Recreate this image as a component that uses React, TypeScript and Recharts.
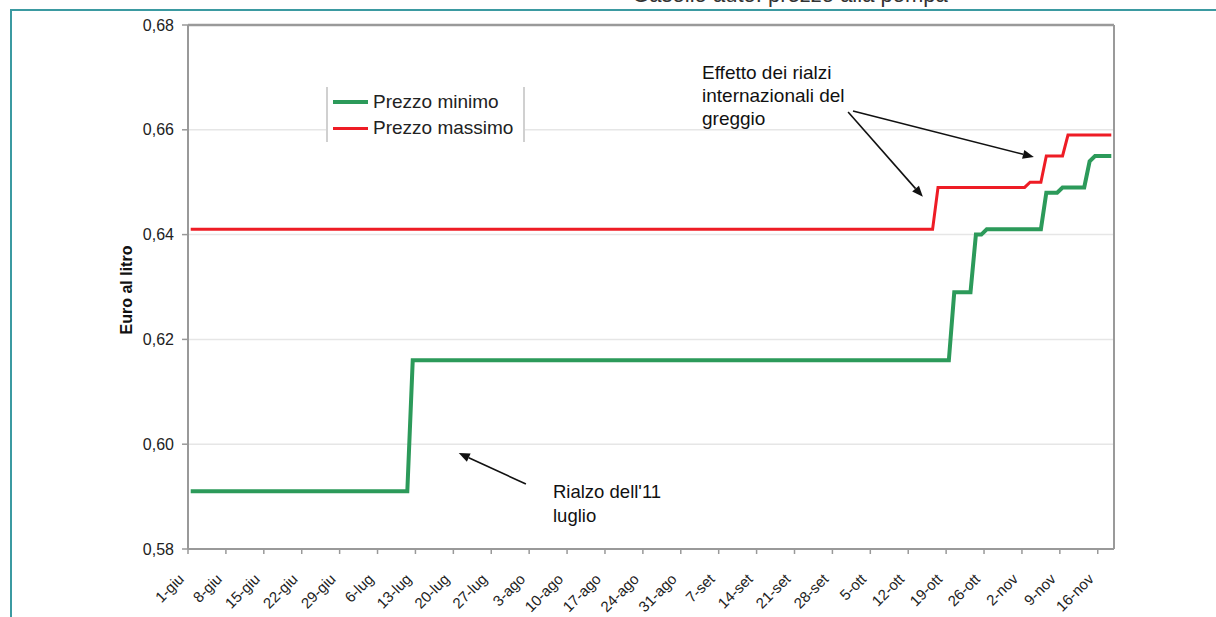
import React from 'react';
import { LineChart, Line, XAxis, YAxis, CartesianGrid, ReferenceLine } from 'recharts';

// Days counted from 1 June
const tickDays = [0, 7, 14, 21, 28, 35, 42, 49, 56, 63, 70, 77, 84, 91, 98, 105, 112, 119, 126, 133, 140, 147, 154, 161, 168];
const tickLabels = ['1-giu', '8-giu', '15-giu', '22-giu', '29-giu', '6-lug', '13-lug', '20-lug', '27-lug', '3-ago', '10-ago', '17-ago', '24-ago', '31-ago', '7-set', '14-set', '21-set', '28-set', '5-ott', '12-ott', '19-ott', '26-ott', '2-nov', '9-nov', '16-nov'];
const yTicks = [0.58, 0.6, 0.62, 0.64, 0.66, 0.68];

const minDays = [0, 40, 41, 140, 141, 144, 145, 146, 147, 157, 158, 160, 161, 165, 166, 167, 170];
const minValues = [0.591, 0.591, 0.616, 0.616, 0.629, 0.629, 0.640, 0.640, 0.641, 0.641, 0.648, 0.648, 0.649, 0.649, 0.654, 0.655, 0.655];
const maxDays = [0, 137, 138, 154, 155, 157, 158, 161, 162, 170];
const maxValues = [0.641, 0.641, 0.649, 0.649, 0.650, 0.650, 0.655, 0.655, 0.659, 0.659];

const seriesNames = ['Prezzo minimo', 'Prezzo massimo'];
const seriesColors = ['#2C9A5A', '#EE1C25'];
const seriesWidths = [4, 3];

// annotation arrows in data coordinates: [fromDay, fromValue, toDay, toValue]
const arrows = [
  [121.9, 0.6634, 135.7, 0.6472],
  [122.8, 0.6636, 156.2, 0.6548],
  [62.4, 0.5924, 50.0, 0.5983],
];

const minData = minDays.map((d, i) => ({ x: d + 0.5, v: minValues[i] }));
const maxData = maxDays.map((d, i) => ({ x: d + 0.5, v: maxValues[i] }));

const FONT = '"Liberation Sans", Arial, sans-serif';

const XTick = (props: any) => {
  const { x, y, payload } = props;
  const idx = tickDays.indexOf(payload.value);
  const label = idx >= 0 ? tickLabels[idx] : '';
  const ax = x - 3;
  const ay = y + 24;
  return (
    <text x={ax} y={ay} transform={`rotate(-45, ${ax}, ${ay})`} textAnchor="end" fontSize={15} fill="#222" fontFamily={FONT}>
      {label}
    </text>
  );
};

const ArrowShape = (props: any) => {
  const { x1, y1, x2, y2 } = props;
  const dx = x2 - x1;
  const dy = y2 - y1;
  const len = Math.sqrt(dx * dx + dy * dy) || 1;
  const ux = dx / len;
  const uy = dy / len;
  const hl = 11;
  const hw = 4.5;
  const bx = x2 - ux * hl;
  const by = y2 - uy * hl;
  const p1 = `${x2},${y2}`;
  const p2 = `${bx - uy * hw},${by + ux * hw}`;
  const p3 = `${bx + uy * hw},${by - ux * hw}`;
  return (
    <g>
      <line x1={x1} y1={y1} x2={bx} y2={by} stroke="#111" strokeWidth={1.6} />
      <polygon points={`${p1} ${p2} ${p3}`} fill="#111" />
    </g>
  );
};

export default function App() {
  return (
    <div style={{ position: 'absolute', left: 0, top: 0, width: 1216, height: 617, overflow: 'hidden', background: '#fff' }}>
      <div
        style={{
          position: 'absolute',
          left: 10,
          top: 9,
          width: 1400,
          height: 800,
          border: '2px solid #3B9AA1',
          boxSizing: 'border-box',
        }}
      />
      <div style={{ position: 'absolute', left: 0, top: 0 }}>
        <LineChart width={1216} height={617} margin={{ top: 25, right: 102, bottom: 0, left: 128 }}>
          <CartesianGrid horizontal={true} vertical={false} stroke="#e6e6e6" strokeWidth={1.5} />
          <XAxis
            type="number"
            dataKey="x"
            domain={[0, 171]}
            ticks={tickDays}
            interval={0}
            height={68}
            tick={<XTick />}
            tickSize={5}
            tickLine={{ stroke: '#999', strokeWidth: 1.5 }}
            axisLine={{ stroke: '#999', strokeWidth: 2 }}
            allowDataOverflow
          />
          <YAxis
            type="number"
            domain={[0.58, 0.68]}
            ticks={yTicks}
            width={60}
            tickSize={6}
            tickMargin={8}
            tickFormatter={(v: number) => v.toFixed(2).replace('.', ',')}
            tick={{ fontSize: 16, fill: '#222', fontFamily: FONT }}
            tickLine={{ stroke: '#999', strokeWidth: 1.5 }}
            axisLine={{ stroke: '#999', strokeWidth: 2 }}
            allowDataOverflow
          />
          <ReferenceLine y={0.68} stroke="#9a9a9a" strokeWidth={2.5} />
          <ReferenceLine x={171} stroke="#9a9a9a" strokeWidth={2} />
          <Line
            data={minData}
            dataKey="v"
            name={seriesNames[0]}
            type="linear"
            stroke={seriesColors[0]}
            strokeWidth={seriesWidths[0]}
            dot={false}
            activeDot={false}
            isAnimationActive={false}
          />
          <Line
            data={maxData}
            dataKey="v"
            name={seriesNames[1]}
            type="linear"
            stroke={seriesColors[1]}
            strokeWidth={seriesWidths[1]}
            dot={false}
            activeDot={false}
            isAnimationActive={false}
          />
          {arrows.map((a, i) => (
            <ReferenceLine
              key={i}
              segment={[{ x: a[0], y: a[1] }, { x: a[2], y: a[3] }]}
              shape={ArrowShape}
              ifOverflow="visible"
            />
          ))}
        </LineChart>
      </div>
      <div
        style={{
          position: 'absolute',
          left: 326,
          top: 87,
          width: 195,
          height: 55,
          background: '#fff',
          borderLeft: '2px solid #d0d0d0',
          borderRight: '2px solid #d0d0d0',
        }}
      >
        {seriesNames.map((n, i) => (
          <div key={i} style={{ position: 'absolute', left: 0, top: 2 + i * 26, height: 26, display: 'flex', alignItems: 'center', whiteSpace: 'nowrap' }}>
            <div style={{ width: 35, height: seriesWidths[i], background: seriesColors[i], marginLeft: 5, marginRight: 5 }} />
            <span style={{ fontFamily: FONT, fontSize: 19, color: '#222' }}>{n}</span>
          </div>
        ))}
      </div>
      <svg width={1216} height={617} style={{ position: 'absolute', left: 0, top: 0, pointerEvents: 'none' }}>
        <text x={790} y={2} textAnchor="middle" fontSize={22} fill="#333" fontFamily={FONT}>
          Gasolio auto: prezzo alla pompa
        </text>
        <text
          x={128}
          y={290}
          transform="rotate(-90, 128, 290)"
          textAnchor="middle"
          dominantBaseline="middle"
          fontSize={16}
          fontWeight="bold"
          fill="#111"
          fontFamily={FONT}
        >
          Euro al litro
        </text>
        <g fontFamily={FONT} fill="#111">
          <text x={702} y={79} fontSize={19}>Effetto dei rialzi</text>
          <text x={702} y={102} fontSize={19}>internazionali del</text>
          <text x={702} y={125} fontSize={19}>greggio</text>
          <text x={553} y={498} fontSize={18.5}>Rialzo dell'11</text>
          <text x={553} y={522} fontSize={18.5}>luglio</text>
        </g>
      </svg>
    </div>
  );
}
